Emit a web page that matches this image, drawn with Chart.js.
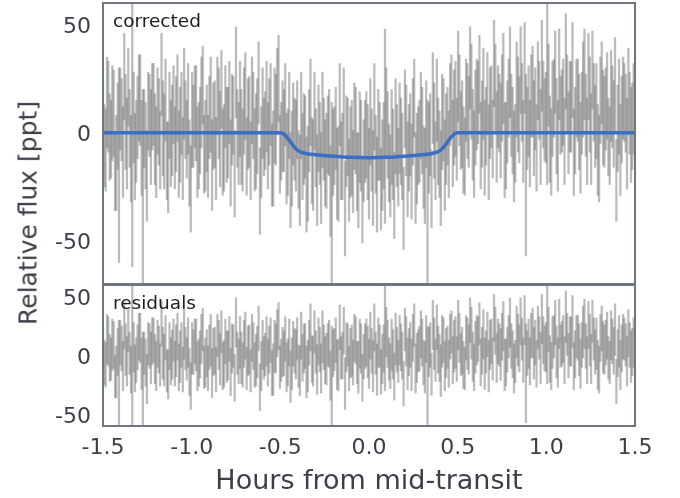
<!DOCTYPE html>
<html lang="en">
<head>
    <meta charset="UTF-8">
    <title>Transit light curve</title>
    <script src="https://cdn.jsdelivr.net/npm/chart.js"></script>
    <style>
        body {
            margin: 0;
            padding: 0;
            background: #ffffff;
            font-family: "DejaVu Sans", sans-serif;
        }
        .page {
            position: relative;
            width: 680px;
            height: 498px;
            overflow: hidden;
        }
        .panel {
            position: absolute;
            left: 0;
            width: 680px;
        }
        #top-wrap { top: 0; height: 286px; }
        #bottom-wrap { top: 284px; height: 214px; }
        .ylabel {
            position: absolute;
            left: 28px;
            top: 213px;
            transform: translate(-50%, -50%) rotate(-90deg);
            font-size: 25px;
            color: #3c3f48;
            white-space: nowrap;
        }
        .tag {
            position: absolute;
            left: 113px;
            font-size: 18.5px;
            color: #1e1e1e;
        }
    </style>
</head>
<body>
<div class="page">
    <div class="panel" id="top-wrap"><canvas id="top-chart" width="680" height="286"></canvas></div>
    <div class="panel" id="bottom-wrap"><canvas id="bottom-chart" width="680" height="214"></canvas></div>
    <div class="ylabel">Relative flux [ppt]</div>
    <div class="tag" style="top: 10px;">corrected</div>
    <div class="tag" style="top: 292px;">residuals</div>
</div>

<script>
    // hours from mid-transit, first set of exposures
    const times = [
        -1.5, -1.485, -1.47, -1.455, -1.44, -1.425, -1.41, -1.395, -1.38, -1.365, -1.35, -1.335, -1.32, -1.305, -1.29, -1.275, -1.26, -1.245, -1.23, -1.215,
        -1.2, -1.185, -1.17, -1.155, -1.14, -1.125, -1.11, -1.095, -1.08, -1.065, -1.05, -1.035, -1.02, -1.005, -0.99, -0.975, -0.96, -0.945, -0.93, -0.915,
        -0.9, -0.885, -0.87, -0.855, -0.84, -0.825, -0.81, -0.795, -0.78, -0.765, -0.75, -0.735, -0.72, -0.705, -0.69, -0.675, -0.66, -0.645, -0.63, -0.615,
        -0.6, -0.585, -0.57, -0.555, -0.54, -0.525, -0.51, -0.495, -0.48, -0.465, -0.45, -0.435, -0.42, -0.405, -0.39, -0.375, -0.36, -0.345, -0.33, -0.315,
        -0.3, -0.285, -0.27, -0.255, -0.24, -0.225, -0.21, -0.195, -0.18, -0.165, -0.15, -0.135, -0.12, -0.105, -0.09, -0.075, -0.06, -0.045, -0.03, -0.015,
        0, 0.015, 0.03, 0.045, 0.06, 0.075, 0.09, 0.105, 0.12, 0.135, 0.15, 0.165, 0.18, 0.195, 0.21, 0.225, 0.24, 0.255, 0.27, 0.285,
        0.3, 0.315, 0.33, 0.345, 0.36, 0.375, 0.39, 0.405, 0.42, 0.435, 0.45, 0.465, 0.48, 0.495, 0.51, 0.525, 0.54, 0.555, 0.57, 0.585,
        0.6, 0.615, 0.63, 0.645, 0.66, 0.675, 0.69, 0.705, 0.72, 0.735, 0.75, 0.765, 0.78, 0.795, 0.81, 0.825, 0.84, 0.855, 0.87, 0.885,
        0.9, 0.915, 0.93, 0.945, 0.96, 0.975, 0.99, 1.005, 1.02, 1.035, 1.05, 1.065, 1.08, 1.095, 1.11, 1.125, 1.14, 1.155, 1.17, 1.185,
        1.2, 1.215, 1.23, 1.245, 1.26, 1.275, 1.29, 1.305, 1.32, 1.335, 1.35, 1.365, 1.38, 1.395, 1.41, 1.425, 1.44, 1.455, 1.47, 1.485,
        1.5
    ];

    // detrended flux [ppt]
    const corrected = [
        4, -8, 12, -3, 9, -14, -15, 6, 26, -5, 2, 0, -11, 7, 15, -25, -6, 10, -2, 13,
        -9, 5, 27, -4, -13, 8, 1, -7, 16, -1, -12, 6, 11, -26, 3, 9, -6, 14, -10, 2,
        7, -15, 4, 17, -3, -9, 12, 0, -14, 8, 28, -5, -2, 10, -11, 5, 15, -8, 3, -27,
        9, 1, -6, 13, -12, 6, 25, -4, 1, -12, 8, -12, -3, 6, -22, -11, -2, -19, 14, -15,
        -7, 2, -21, -3, -13, 0, -31, -6, -19, 13, -11, -35, -2, -9, -18, 1, -22, -6, -13, -1,
        -19, -8, 12, -24, -4, -15, 3, -1, -20, -10, 3, -16, -4, -35, 1, -7, -18, 16, -12, -4,
        1, -20, -30, -1, 16, -13, -4, -21, 6, -3, -10, 18, 7, -3, 15, 4, -11, 10, 30, -1,
        7, 14, -6, 18, 3, -9, 12, 32, -2, 9, 16, -8, 5, 28, 1, -5, 13, 29, -4, -15,
        10, 17, 2, -7, 15, 31, 6, 18, -3, 11, 28, -6, 8, 14, 33, 0, 12, -9, 16, 5,
        9, 27, -4, 13, 29, 3, -8, 15, 7, 11, -2, 17, 4, -22, 12, 6, 14, -5, 9, 3,
        8
    ];

    // residuals after model subtraction [ppt]
    const residuals = [
        4, -8, 12, -3, 9, -14, -15, 6, 26, -5, 2, 0, -11, 7, 15, -25, -6, 10, -2, 13,
        -9, 5, 27, -4, -13, 8, 1, -7, 16, -1, -12, 6, 11, -26, 3, 9, -6, 14, -10, 2,
        7, -15, 4, 17, -3, -9, 12, 0, -14, 8, 28, -5, -2, 10, -11, 5, 15, -8, 3, -27,
        9, 1, -6, 13, -12, 6, 25, -4, 2, -10, 11, -7, 4, 14, -13, -2, 8, -9, 24, -5,
        3, 12, -11, 7, -3, 10, -20, 5, -8, 24, 0, -24, 9, 2, -6, 13, -10, 6, -1, 11,
        -7, 4, 24, -12, 8, -3, 15, 10, -9, 1, 14, -5, 7, -24, 12, 3, -8, 26, -2, 6,
        11, -10, -20, 9, 26, -4, 5, -13, 13, 2, -7, 20, 8, -3, 15, 4, -11, 10, 30, -1,
        7, 14, -6, 18, 3, -9, 12, 32, -2, 9, 16, -8, 5, 28, 1, -5, 13, 29, -4, -15,
        10, 17, 2, -7, 15, 31, 6, 18, -3, 11, 28, -6, 8, 14, 33, 0, 12, -9, 16, 5,
        9, 27, -4, 13, 29, 3, -8, 15, 7, 11, -2, 17, 4, -22, 12, 6, 14, -5, 9, 3,
        8
    ];

    // 1-sigma uncertainties [ppt]
    const errors = [
        20, 19, 21, 18, 20, 22, 45, 19, 20, 21, 18, 62, 20, 19, 21, 45, 20, 18, 22, 19,
        21, 20, 19, 22, 18, 20, 21, 19, 20, 22, 19, 18, 21, 20, 19, 22, 20, 21, 18, 20,
        19, 21, 20, 18, 22, 20, 19, 21, 20, 18, 21, 19, 22, 20, 18, 21, 20, 19, 22, 20,
        21, 18, 20, 19, 22, 21, 20, 18, 19, 21, 20, 22, 19, 18, 21, 20, 19, 22, 20, 21,
        18, 20, 21, 19, 22, 20, 45, 18, 21, 19, 20, 22, 18, 21, 19, 20, 22, 21, 19, 20,
        21, 19, 20, 22, 18, 21, 45, 20, 19, 21, 22, 18, 20, 19, 21, 20, 22, 18, 21, 19,
        20, 22, 45, 19, 21, 18, 20, 22, 19, 21, 20, 18, 22, 19, 21, 20, 18, 22, 19, 21,
        22, 19, 20, 21, 18, 22, 19, 20, 21, 18, 20, 22, 19, 21, 20, 18, 22, 20, 19, 42,
        21, 19, 22, 20, 18, 21, 19, 42, 20, 22, 19, 21, 18, 20, 22, 19, 21, 20, 18, 22,
        19, 21, 20, 22, 18, 19, 21, 20, 22, 19, 18, 21, 20, 19, 22, 20, 18, 21, 19, 20,
        21
    ];

    // second, interleaved set of exposures
    const timesB = [
        -1.4925, -1.4775, -1.4625, -1.4475, -1.4325, -1.4175, -1.4025, -1.3875, -1.3725, -1.3575, -1.3425, -1.3275, -1.3125, -1.2975, -1.2825, -1.2675, -1.2525, -1.2375, -1.2225, -1.2075,
        -1.1925, -1.1775, -1.1625, -1.1475, -1.1325, -1.1175, -1.1025, -1.0875, -1.0725, -1.0575, -1.0425, -1.0275, -1.0125, -0.9975, -0.9825, -0.9675, -0.9525, -0.9375, -0.9225, -0.9075,
        -0.8925, -0.8775, -0.8625, -0.8475, -0.8325, -0.8175, -0.8025, -0.7875, -0.7725, -0.7575, -0.7425, -0.7275, -0.7125, -0.6975, -0.6825, -0.6675, -0.6525, -0.6375, -0.6225, -0.6075,
        -0.5925, -0.5775, -0.5625, -0.5475, -0.5325, -0.5175, -0.5025, -0.4875, -0.4725, -0.4575, -0.4425, -0.4275, -0.4125, -0.3975, -0.3825, -0.3675, -0.3525, -0.3375, -0.3225, -0.3075,
        -0.2925, -0.2775, -0.2625, -0.2475, -0.2325, -0.2175, -0.2025, -0.1875, -0.1725, -0.1575, -0.1425, -0.1275, -0.1125, -0.0975, -0.0825, -0.0675, -0.0525, -0.0375, -0.0225, -0.0075,
        0.0075, 0.0225, 0.0375, 0.0525, 0.0675, 0.0825, 0.0975, 0.1125, 0.1275, 0.1425, 0.1575, 0.1725, 0.1875, 0.2025, 0.2175, 0.2325, 0.2475, 0.2625, 0.2775, 0.2925,
        0.3075, 0.3225, 0.3375, 0.3525, 0.3675, 0.3825, 0.3975, 0.4125, 0.4275, 0.4425, 0.4575, 0.4725, 0.4875, 0.5025, 0.5175, 0.5325, 0.5475, 0.5625, 0.5775, 0.5925,
        0.6075, 0.6225, 0.6375, 0.6525, 0.6675, 0.6825, 0.6975, 0.7125, 0.7275, 0.7425, 0.7575, 0.7725, 0.7875, 0.8025, 0.8175, 0.8325, 0.8475, 0.8625, 0.8775, 0.8925,
        0.9075, 0.9225, 0.9375, 0.9525, 0.9675, 0.9825, 0.9975, 1.0125, 1.0275, 1.0425, 1.0575, 1.0725, 1.0875, 1.1025, 1.1175, 1.1325, 1.1475, 1.1625, 1.1775, 1.1925,
        1.2075, 1.2225, 1.2375, 1.2525, 1.2675, 1.2825, 1.2975, 1.3125, 1.3275, 1.3425, 1.3575, 1.3725, 1.3875, 1.4025, 1.4175, 1.4325, 1.4475, 1.4625, 1.4775, 1.4925
    ];

    const correctedB = [
        -6, 14, -2, 9, -18, 3, 11, -9, 5, 21, -12, 7, -4, 16, -7, 2, -20, 8, 12, -3,
        10, -8, 2, 15, -16, -5, 13, 4, -10, 9, 18, -3, -14, 6, 12, -9, 1, 22, -6, -11,
        13, 3, -12, 9, 20, -7, -1, 14, 6, -19, 2, 11, -8, 17, 4, -13, 8, -4, 23, -9,
        -2, 12, 5, -15, 8, 19, -10, 3, 13, -9, -22, 4, -6, -17, 8, -3, -24, 1, -13, 10,
        -22, -5, 6, -14, -1, -27, -9, 2, -19, -13, 10, -4, -22, -7, 3, -18, -2, -31, -4, -9,
        5, -21, -10, -1, -26, -6, 9, -14, -2, -29, -6, 2, -11, 11, -17, -1, 5, -21, -6, 8,
        -16, 4, -7, -26, 1, 15, -10, 5, -15, 3, 13, -5, 11, 26, 1, -8, 15, 5, 19, -10,
        13, 27, 4, -7, 18, 9, -3, 21, 12, 1, 25, -6, 16, 8, -11, 20, 6, 14, 30, 2,
        -5, 19, 11, 24, -2, 13, 7, 22, -9, 16, 3, 27, 10, -4, 18, 12, 29, 1, 15, -7,
        20, 8, 26, -3, 14, 10, -12, 23, 5, 17, -6, 12, 22, 2, -8, 16, 9, 19, -1, 11
    ];

    const residualsB = [
        -6, 14, -2, 9, -18, 3, 11, -9, 5, 21, -12, 7, -4, 16, -7, 2, -20, 8, 12, -3,
        10, -8, 2, 15, -16, -5, 13, 4, -10, 9, 18, -3, -14, 6, 12, -9, 1, 22, -6, -11,
        13, 3, -12, 9, 20, -7, -1, 14, 6, -19, 2, 11, -8, 17, 4, -13, 8, -4, 23, -9,
        -2, 12, 5, -15, 8, 19, -10, 3, 14, -6, -18, 10, 1, -9, 17, 6, -14, 11, -3, 20,
        -12, 5, 16, -4, 9, -17, 2, 13, -8, -2, 21, 7, -11, 4, 15, -6, 10, -19, 8, 3,
        17, -9, 2, 11, -14, 6, 20, -3, 9, -18, 5, 13, 0, 22, -7, 9, 15, -11, 4, 18,
        -6, 14, 3, -16, 10, 24, -2, 12, -9, 7, 16, -4, 11, 26, 1, -8, 15, 5, 19, -10,
        13, 27, 4, -7, 18, 9, -3, 21, 12, 1, 25, -6, 16, 8, -11, 20, 6, 14, 30, 2,
        -5, 19, 11, 24, -2, 13, 7, 22, -9, 16, 3, 27, 10, -4, 18, 12, 29, 1, 15, -7,
        20, 8, 26, -3, 14, 10, -12, 23, 5, 17, -6, 12, 22, 2, -8, 16, 9, 19, -1, 11
    ];

    const errorsB = [
        19, 21, 20, 22, 18, 20, 19, 21, 22, 18, 20, 21, 19, 20, 22, 18, 21, 19, 20, 21,
        20, 18, 22, 19, 21, 20, 18, 22, 20, 19, 21, 18, 20, 22, 19, 21, 20, 18, 21, 19,
        22, 20, 19, 21, 18, 20, 22, 19, 21, 20, 18, 22, 19, 20, 21, 18, 20, 22, 19, 21,
        18, 21, 20, 19, 22, 20, 18, 21, 19, 20, 22, 19, 21, 18, 20, 21, 22, 19, 20, 18,
        21, 19, 22, 20, 18, 21, 20, 19, 22, 18, 20, 21, 19, 22, 20, 18, 21, 20, 19, 22,
        20, 22, 18, 21, 19, 20, 21, 18, 22, 20, 19, 21, 20, 18, 22, 19, 20, 21, 18, 20,
        19, 20, 21, 18, 22, 19, 20, 22, 21, 18, 19, 20, 22, 21, 18, 20, 19, 21, 22, 20,
        21, 18, 20, 22, 19, 21, 18, 20, 19, 22, 21, 20, 18, 19, 21, 22, 20, 18, 21, 19,
        20, 21, 19, 18, 22, 20, 21, 19, 20, 18, 22, 21, 19, 20, 18, 21, 22, 20, 19, 21,
        22, 19, 20, 21, 18, 22, 20, 19, 21, 20, 18, 19, 22, 20, 21, 19, 18, 20, 22, 21
    ];

    // transit model
    const modelTimes = [-1.5, -0.5, -0.48, -0.46, -0.44, -0.42, -0.4, -0.38, -0.35, -0.3, -0.2, -0.1, 0,
                        0.1, 0.2, 0.3, 0.35, 0.38, 0.4, 0.42, 0.44, 0.46, 0.48, 0.5, 1.5];
    const modelFlux = [0, 0, -0.6, -2.4, -4.6, -6.8, -8.3, -9.1, -9.7, -10.2, -10.9, -11.4, -11.6,
                       -11.4, -10.9, -10.2, -9.7, -9.1, -8.3, -6.8, -4.6, -2.4, -0.6, 0, 0];

    const yTicks = [-50, 0, 50];
    const xTicks = [-1.5, -1.0, -0.5, 0.0, 0.5, 1.0, 1.5];

    const textColor = '#3c3f48';
    const frameColor = '#6f7680';
    const barColor = 'rgba(105, 105, 105, 0.45)';
    const modelColor = '#3a6fc4';

    function errorBars(t, values, errs) {
        return t.map((x, i) => ({ x: x, y: [values[i] - errs[i], values[i] + errs[i]] }));
    }

    const frame = {
        id: 'frame',
        afterDraw(chart) {
            const { ctx, chartArea: a } = chart;
            ctx.save();
            ctx.strokeStyle = frameColor;
            ctx.lineWidth = 2;
            ctx.strokeRect(a.left, a.top, a.right - a.left, a.bottom - a.top);
            ctx.restore();
        }
    };

    function yAxis(min, max) {
        return {
            min: min,
            max: max,
            grid: { display: false, drawTicks: false },
            border: { display: false },
            afterFit: s => {
                s.width = 103;
                s.paddingTop = 0;
                s.paddingBottom = 0;
            },
            afterBuildTicks: s => { s.ticks = yTicks.map(v => ({ value: v })); },
            ticks: {
                color: textColor,
                padding: 12,
                labelOffset: 3,
                font: { family: 'DejaVu Sans', size: 22 }
            }
        };
    }

    Chart.defaults.animation = false;

    // top panel: corrected light curve + model
    new Chart(document.getElementById('top-chart'), {
        type: 'bar',
        data: {
            datasets: [
                {
                    type: 'line',
                    data: modelTimes.map((t, i) => ({ x: t, y: modelFlux[i] })),
                    borderColor: modelColor,
                    borderWidth: 3.5,
                    pointRadius: 0,
                    cubicInterpolationMode: 'monotone',
                    order: 0
                },
                {
                    data: errorBars(times, corrected, errors).concat(errorBars(timesB, correctedB, errorsB)),
                    backgroundColor: barColor,
                    barThickness: 1.6,
                    order: 1
                }
            ]
        },
        options: {
            responsive: false,
            layout: { padding: { left: 0, right: 45, top: 3, bottom: 2 } },
            plugins: { legend: { display: false }, tooltip: { enabled: false } },
            scales: {
                x: { type: 'linear', min: -1.5, max: 1.5, offset: false, display: false },
                y: yAxis(-70, 60)
            }
        },
        plugins: [frame]
    });

    // bottom panel: residuals
    new Chart(document.getElementById('bottom-chart'), {
        type: 'bar',
        data: {
            datasets: [
                {
                    data: errorBars(times, residuals, errors).concat(errorBars(timesB, residualsB, errorsB)),
                    backgroundColor: barColor,
                    barThickness: 1.6
                }
            ]
        },
        options: {
            responsive: false,
            layout: { padding: { left: 0, right: 45, top: 1, bottom: 0 } },
            plugins: { legend: { display: false }, tooltip: { enabled: false } },
            scales: {
                x: {
                    type: 'linear',
                    min: -1.5,
                    max: 1.5,
                    offset: false,
                    grid: { display: false, drawTicks: false },
                    border: { display: false },
                    afterFit: s => { s.height = 72; },
                    afterBuildTicks: s => { s.ticks = xTicks.map(v => ({ value: v })); },
                    ticks: {
                        color: textColor,
                        padding: 9,
                        autoSkip: false,
                        maxRotation: 0,
                        font: { family: 'DejaVu Sans', size: 22 },
                        callback: v => v.toFixed(1)
                    },
                    title: {
                        display: true,
                        text: 'Hours from mid-transit',
                        color: textColor,
                        padding: { top: 0, bottom: 0 },
                        font: { family: 'DejaVu Sans', size: 27 }
                    }
                },
                y: yAxis(-60, 60)
            }
        },
        plugins: [frame]
    });
</script>
</body>
</html>
